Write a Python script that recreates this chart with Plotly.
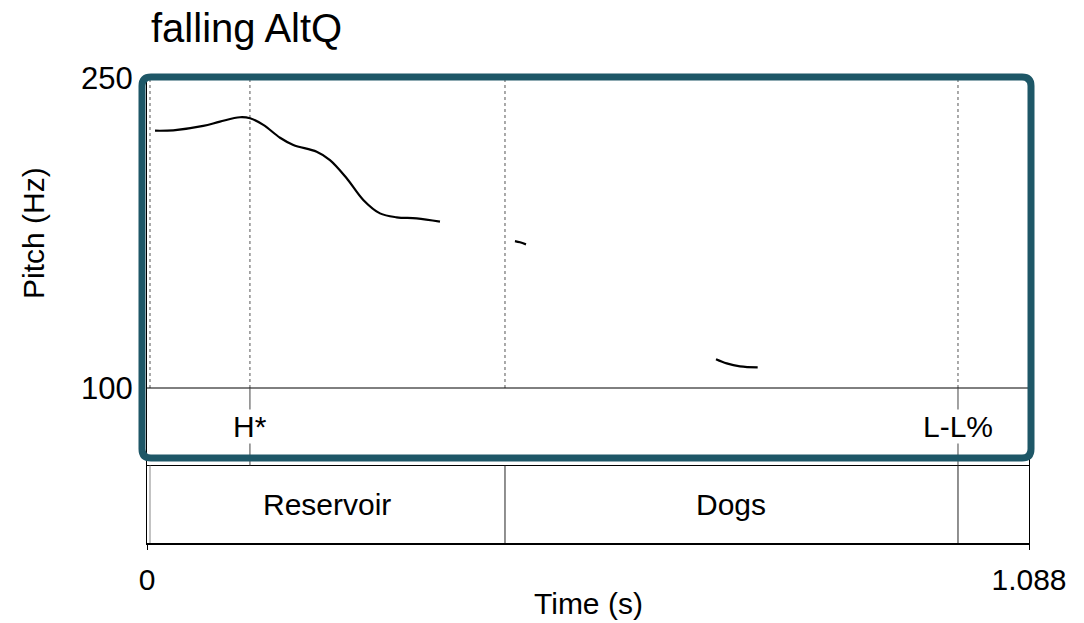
import plotly.graph_objects as go

# ---- data ----
seg1_t = [0.0099, 0.0324, 0.0694, 0.0900, 0.1147, 0.1271, 0.1435, 0.1641, 0.1805,
          0.2093, 0.2257, 0.2463, 0.2668, 0.2874, 0.3080, 0.3327, 0.3614]
seg1_f = [224.5, 224.7, 226.8, 228.9, 231.0, 230.5, 227.3, 221.1, 217.6,
          214.3, 210.3, 201.5, 191.0, 184.5, 182.6, 182.1, 180.5]
seg2_t = [0.4539, 0.4601, 0.4675]
seg2_f = [171.1, 170.5, 169.5]
seg3_t = [0.7019, 0.7151, 0.7315, 0.7533]
seg3_f = [113.9, 111.9, 110.5, 110.0]

tone_times = [0.127, 1.0004]
tone_labels = ["H*", "L-L%"]
word_bounds = [0.0037, 0.4416, 1.0004]
word_labels = ["Reservoir", "Dogs"]

t_max = 1.088
f_min, f_max = 100, 250
tier_h = 37.5          # height of one tier, in pitch-axis units
y_low = f_min - 2 * tier_h

FONT = "Liberation Sans, Arial, sans-serif"
TEAL = "#1e5767"

fig = go.Figure()
for tt, ff in [(seg1_t, seg1_f), (seg2_t, seg2_f), (seg3_t, seg3_f)]:
    fig.add_trace(go.Scatter(x=tt, y=ff, mode="lines", line=dict(color="black", width=2.2, shape="spline"),
                             hoverinfo="skip", showlegend=False))

shapes = []
# dotted lines in the pitch area
for t in sorted(set(word_bounds + tone_times)):
    shapes.append(dict(type="line", xref="x", yref="y", x0=t, x1=t, y0=f_min, y1=f_max,
                       line=dict(color="#555555", width=1, dash="dot"), layer="below"))
# horizontal separators
shapes.append(dict(type="line", xref="x", yref="y", x0=0, x1=t_max, y0=f_min, y1=f_min,
                   line=dict(color="black", width=1)))
shapes.append(dict(type="line", xref="x", yref="y", x0=0, x1=t_max, y0=f_min - tier_h, y1=f_min - tier_h,
                   line=dict(color="black", width=1)))
# tone tier point lines
for t in tone_times:
    shapes.append(dict(type="line", xref="x", yref="y", x0=t, x1=t, y0=f_min - tier_h, y1=f_min,
                       line=dict(color="#444444", width=1)))
# word tier boundaries
for i, t in enumerate(word_bounds):
    shapes.append(dict(type="line", xref="x", yref="y", x0=t, x1=t, y0=y_low, y1=f_min - tier_h,
                       line=dict(color="#888888" if i == 0 else "#222222", width=1)))

# teal highlight box (rounded) in paper coords
W, H = 882.0, 465.0
x0, x1 = -5 / W, 884 / W
y0, y1 = 85 / H, 466 / H
rx, ry = 9 / W, 9 / H
path = (f"M {x0+rx},{y1} L {x1-rx},{y1} Q {x1},{y1} {x1},{y1-ry} "
        f"L {x1},{y0+ry} Q {x1},{y0} {x1-rx},{y0} L {x0+rx},{y0} Q {x0},{y0} {x0},{y0+ry} "
        f"L {x0},{y1-ry} Q {x0},{y1} {x0+rx},{y1} Z")
shapes.append(dict(type="path", xref="paper", yref="paper", path=path,
                   line=dict(color=TEAL, width=7), fillcolor="rgba(0,0,0,0)", layer="above"))

annotations = []
for t, lab in zip(tone_times, tone_labels):
    annotations.append(dict(x=t, y=f_min - tier_h / 2, xref="x", yref="y", text=lab, showarrow=False,
                            font=dict(family=FONT, size=30, color="black"), bgcolor="white",
                            xanchor="center", yanchor="middle", borderpad=0))
for i, lab in enumerate(word_labels):
    annotations.append(dict(x=(word_bounds[i] + word_bounds[i + 1]) / 2, y=f_min - 1.5 * tier_h,
                            xref="x", yref="y", text=lab, showarrow=False,
                            font=dict(family=FONT, size=30, color="black"),
                            xanchor="center", yanchor="middle"))
annotations.append(dict(x=2 / W, y=1, xref="paper", yref="paper", yshift=26, text="falling AltQ",
                        showarrow=False, font=dict(family=FONT, size=40, color="black"),
                        xanchor="left", yanchor="bottom"))
annotations.append(dict(x=-114 / W, y=(543 - 233) / H, xref="paper", yref="paper", text="Pitch (Hz)",
                        showarrow=False, textangle=-90, font=dict(family=FONT, size=30, color="black"),
                        xanchor="center", yanchor="middle"))
annotations.append(dict(x=0.5, y=-60 / H, xref="paper", yref="paper", text="Time (s)",
                        showarrow=False, font=dict(family=FONT, size=30, color="black"),
                        xanchor="center", yanchor="middle"))

fig.update_layout(
    width=1084, height=623,
    margin=dict(l=147, r=55, t=78, b=80, autoexpand=False),
    paper_bgcolor="white", plot_bgcolor="white",
    shapes=shapes, annotations=annotations,
    xaxis=dict(range=[0, t_max], tickvals=[0, t_max], ticktext=["0", "1.088"], ticks="outside",
               ticklen=5, tickcolor="black", showgrid=False, zeroline=False, showline=True,
               linecolor="black", linewidth=2, mirror=True,
               tickfont=dict(family=FONT, size=30, color="black"), ticklabelstandoff=4),
    yaxis=dict(range=[y_low, f_max], tickvals=[f_min, f_max], ticktext=["100", "250"], ticks="",
               showgrid=False, zeroline=False, showline=True, linecolor="black", linewidth=1, mirror=True,
               tickfont=dict(family=FONT, size=31, color="black"), ticklabelstandoff=7),
)
fig.write_html("out.html", config={"displayModeBar": False},
               post_script="document.body.style.margin='0';")
